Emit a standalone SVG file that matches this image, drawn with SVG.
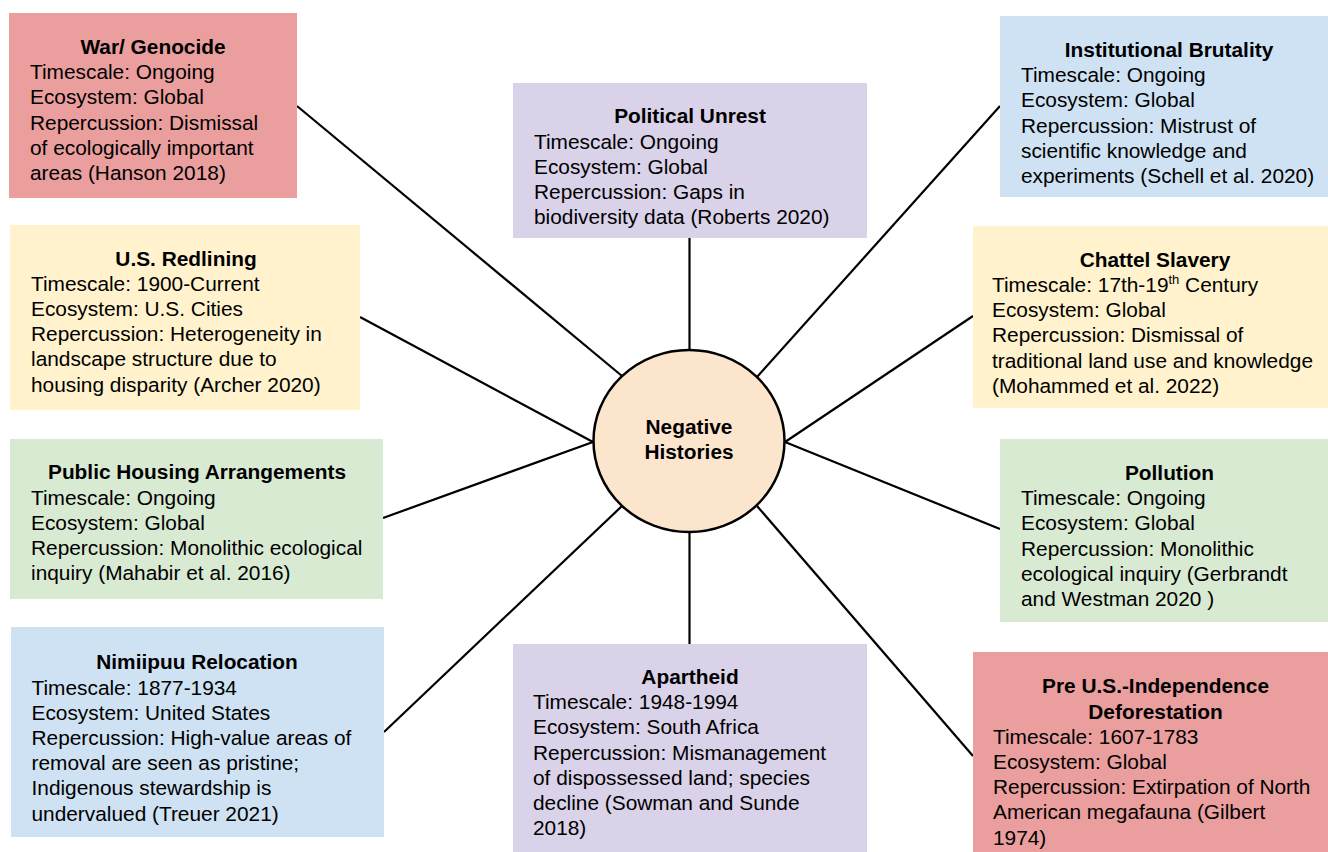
<svg xmlns="http://www.w3.org/2000/svg" width="1328" height="852" viewBox="0 0 1328 852">
<style>
.t{font-family:"Liberation Sans",Arial,sans-serif;font-size:20.85px;fill:#000}
.h{font-weight:bold;text-anchor:middle}
.red{fill:#EA9E9E}
.pur{fill:#D9D2E9}
.blu{fill:#CFE2F3}
.yel{fill:#FFF2CC}
.grn{fill:#D9EAD3}
.con line{stroke:#000;stroke-width:2.2}
</style>
<rect width="1328" height="852" fill="#fff"/>
<g class="con">
<line x1="297" y1="106" x2="622" y2="376"/>
<line x1="689.5" y1="238" x2="689.5" y2="350"/>
<line x1="1000" y1="106" x2="757" y2="377"/>
<line x1="360" y1="317" x2="593" y2="442"/>
<line x1="973" y1="316" x2="785" y2="442"/>
<line x1="383" y1="518" x2="593" y2="442"/>
<line x1="1000" y1="529" x2="785" y2="442"/>
<line x1="384" y1="732" x2="622" y2="506"/>
<line x1="689.5" y1="532" x2="689.5" y2="644"/>
<line x1="973" y1="756" x2="757" y2="506"/>
</g>
<g id="war">
<rect class="red" x="9" y="13" width="288" height="185"/>
<text class="t h" x="153" y="54">War/ Genocide</text>
<text class="t" x="30" y="79.2">Timescale: Ongoing</text>
<text class="t" x="30" y="104.4">Ecosystem: Global</text>
<text class="t" x="30" y="129.6">Repercussion: Dismissal</text>
<text class="t" x="30" y="154.8">of ecologically important</text>
<text class="t" x="30" y="180">areas (Hanson 2018)</text>
</g>
<g id="political">
<rect class="pur" x="513" y="83" width="354" height="155"/>
<text class="t h" x="690" y="123.3">Political Unrest</text>
<text class="t" x="534" y="148.5">Timescale: Ongoing</text>
<text class="t" x="534" y="173.7">Ecosystem: Global</text>
<text class="t" x="534" y="198.9">Repercussion: Gaps in</text>
<text class="t" x="534" y="224.1">biodiversity data (Roberts 2020)</text>
</g>
<g id="institutional">
<rect class="blu" x="1000" y="16" width="328" height="181"/>
<text class="t h" x="1169" y="57">Institutional Brutality</text>
<text class="t" x="1021" y="82.2">Timescale: Ongoing</text>
<text class="t" x="1021" y="107.4">Ecosystem: Global</text>
<text class="t" x="1021" y="132.6">Repercussion: Mistrust of</text>
<text class="t" x="1021" y="157.8">scientific knowledge and</text>
<text class="t" x="1021" y="183">experiments (Schell et al. 2020)</text>
</g>
<g id="redlining">
<rect class="yel" x="10" y="225" width="350" height="185"/>
<text class="t h" x="186" y="265.5">U.S. Redlining</text>
<text class="t" x="31" y="290.7">Timescale: 1900-Current</text>
<text class="t" x="31" y="315.9">Ecosystem: U.S. Cities</text>
<text class="t" x="31" y="341.1">Repercussion: Heterogeneity in</text>
<text class="t" x="31" y="366.3">landscape structure due to</text>
<text class="t" x="31" y="391.5">housing disparity (Archer 2020)</text>
</g>
<g id="chattel">
<rect class="yel" x="973" y="226" width="355" height="182"/>
<text class="t h" x="1155" y="266.7">Chattel Slavery</text>
<text class="t" x="992" y="291.9">Timescale: 17th-19<tspan font-size="13" dy="-8">th</tspan><tspan dy="8"> Century</tspan></text>
<text class="t" x="992" y="317.1">Ecosystem: Global</text>
<text class="t" x="992" y="342.3">Repercussion: Dismissal of</text>
<text class="t" x="992" y="367.5">traditional land use and knowledge</text>
<text class="t" x="992" y="392.7">(Mohammed et al. 2022)</text>
</g>
<g id="publichousing">
<rect class="grn" x="10" y="439" width="373" height="160"/>
<text class="t h" x="197" y="479.3">Public Housing Arrangements</text>
<text class="t" x="31" y="504.5">Timescale: Ongoing</text>
<text class="t" x="31" y="529.7">Ecosystem: Global</text>
<text class="t" x="31" y="554.9">Repercussion: Monolithic ecological</text>
<text class="t" x="31" y="580.1">inquiry (Mahabir et al. 2016)</text>
</g>
<g id="pollution">
<rect class="grn" x="1000" y="439" width="328" height="183"/>
<text class="t h" x="1169.5" y="480">Pollution</text>
<text class="t" x="1021" y="505.2">Timescale: Ongoing</text>
<text class="t" x="1021" y="530.4">Ecosystem: Global</text>
<text class="t" x="1021" y="555.6">Repercussion: Monolithic</text>
<text class="t" x="1021" y="580.8">ecological inquiry (Gerbrandt</text>
<text class="t" x="1021" y="606">and Westman 2020 )</text>
</g>
<g id="nimiipuu">
<rect class="blu" x="11" y="627" width="373" height="210"/>
<text class="t h" x="197" y="669.3">Nimiipuu Relocation</text>
<text class="t" x="31.5" y="694.5">Timescale: 1877-1934</text>
<text class="t" x="31.5" y="719.7">Ecosystem: United States</text>
<text class="t" x="31.5" y="744.9">Repercussion: High-value areas of</text>
<text class="t" x="31.5" y="770.1">removal are seen as pristine;</text>
<text class="t" x="31.5" y="795.3">Indigenous stewardship is</text>
<text class="t" x="31.5" y="820.5">undervalued (Treuer 2021)</text>
</g>
<g id="apartheid">
<rect class="pur" x="513" y="644" width="354" height="208"/>
<text class="t h" x="690" y="684">Apartheid</text>
<text class="t" x="533" y="709.2">Timescale: 1948-1994</text>
<text class="t" x="533" y="734.4">Ecosystem: South Africa</text>
<text class="t" x="533" y="759.6">Repercussion: Mismanagement</text>
<text class="t" x="533" y="784.8">of dispossessed land; species</text>
<text class="t" x="533" y="810">decline (Sowman and Sunde</text>
<text class="t" x="533" y="835.2">2018)</text>
</g>
<g id="preus">
<rect class="red" x="973" y="652" width="355" height="200"/>
<text class="t h" x="1155.5" y="693.3">Pre U.S.-Independence</text>
<text class="t h" x="1155.5" y="718.5">Deforestation</text>
<text class="t" x="993" y="743.7">Timescale: 1607-1783</text>
<text class="t" x="993" y="768.9">Ecosystem: Global</text>
<text class="t" x="993" y="794.1">Repercussion: Extirpation of North</text>
<text class="t" x="993" y="819.3">American megafauna (Gilbert</text>
<text class="t" x="993" y="844.5">1974)</text>
</g>
<g id="center">
<ellipse cx="689" cy="441" rx="95.5" ry="91" fill="#FCE5CD" stroke="#000" stroke-width="2.5"/>
<text class="t h" x="689" y="433.5">Negative</text>
<text class="t h" x="689" y="458.5">Histories</text>
</g>
</svg>
